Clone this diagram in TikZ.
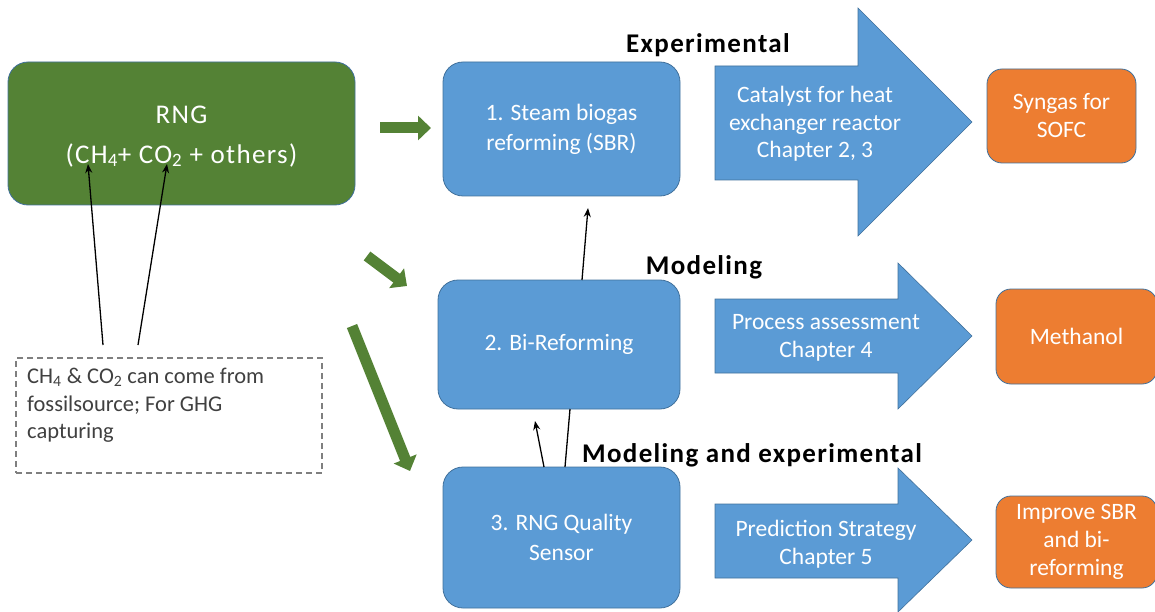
\documentclass[tikz,border=0pt]{standalone}
\usepackage{fontspec}
\setmainfont{Carlito}
\usetikzlibrary{arrows.meta}
\definecolor{rnggreen}{HTML}{548235}
\definecolor{procblue}{HTML}{5B9BD5}
\definecolor{edgeblue}{HTML}{41719C}
\definecolor{prodorange}{HTML}{ED7D31}
\definecolor{notegray}{HTML}{7F7F7F}
\definecolor{notetext}{HTML}{404040}

\begin{document}
\begin{tikzpicture}[x=1pt,y=-1pt,
  shapebox/.style={draw=edgeblue, line width=0.8pt, text=white, align=center,
    inner sep=0pt},
  rngbox/.style={shapebox, fill=rnggreen, rounded corners=20pt,
    font=\fontsize{27}{40}\selectfont\addfontfeature{LetterSpace=5}},
  procbox/.style={shapebox, fill=procblue, rounded corners=20pt,
    font=\fontsize{23.5}{30}\selectfont},
  prodbox/.style={shapebox, fill=prodorange, rounded corners=15pt,
    font=\fontsize{23.5}{28}\selectfont},
  blockarrow/.style={fill=procblue, draw=edgeblue, line width=0.6pt},
  arrowtext/.style={text=white, align=center, inner sep=0pt,
    font=\fontsize{23.5}{27.5}\selectfont},
  phase/.style={font=\fontsize{27}{32}\selectfont\bfseries\addfontfeature{LetterSpace=5},
    text=black, inner sep=0pt},
  feed/.style={rnggreen, line width=11pt, -{Triangle[length=13pt,width=24pt]}},
  link/.style={black, line width=1.3pt, -{Stealth[length=9pt,width=7pt]}},
  plainlink/.style={black, line width=1.3pt},
  notebox/.style={draw=notegray, line width=1.2pt, dash pattern=on 6pt off 4pt},
  notelabel/.style={text=notetext, align=left, inner sep=0pt,
    font=\fontsize{22.5}{27.5}\selectfont}
]
\useasboundingbox (0,0) rectangle (1155,612);

% source gas
\node[rngbox, minimum width=347pt, minimum height=143pt] (rng) at (181.5,133.5)
  {\rule{0pt}{23pt}RNG\\(CH\textsubscript{4}+ CO\textsubscript{2} + others)};

% fossil note
\node[notebox, minimum width=306pt, minimum height=115pt] (note) at (169,415.5) {};
\node[notelabel, anchor=north west] (notetxt) at (27,368)
  {CH\textsubscript{4} \& CO\textsubscript{2} can come from\\fossilsource; For GHG\\capturing};

% process steps
\node[procbox, minimum width=237pt, minimum height=134pt] (b1) at (561.5,129)
  {1. Steam biogas\\reforming (SBR)};
\node[procbox, minimum width=242pt, minimum height=129pt] (b2) at (559,344.5)
  {2. Bi-Reforming};
\node[procbox, minimum width=237pt, minimum height=141pt] (b3) at (561.5,537.5)
  {3. RNG Quality\\Sensor};

% products
\node[prodbox, minimum width=149pt, minimum height=94pt] (p1) at (1061.5,116)
  {Syngas for\\SOFC};
\node[prodbox, minimum width=161pt, minimum height=95pt] (p2) at (1076.5,336.5)
  {Methanol};
\node[prodbox, minimum width=161pt, minimum height=92pt] (p3) at (1076.5,542)
  {Improve SBR\\and bi-\\reforming};

% block arrows towards the products
\draw[blockarrow] (715,66) -- (858,66) -- (858,8) -- (972,122) -- (858,236)
  -- (858,180) -- (715,180) -- cycle;
\draw[blockarrow] (715,299) -- (898,299) -- (898,263) -- (972,336) -- (898,409)
  -- (898,373) -- (715,373) -- cycle;
\draw[blockarrow] (715,504) -- (898,504) -- (898,468) -- (972,540) -- (898,612)
  -- (898,578) -- (715,578) -- cycle;
\node[arrowtext] (a1) at (815,124) {Catalyst for heat\\exchanger reactor\\Chapter 2, 3};
\node[arrowtext] (a2) at (826,338) {Process assessment\\Chapter 4};
\node[arrowtext] (a3) at (826,544) {Prediction Strategy\\Chapter 5};

% phase labels
\node[phase, anchor=base] (ph1) at (708,53) {Experimental};
\node[phase, anchor=base] (ph2) at (704,274) {Modeling};
\node[phase, anchor=base] (ph3) at (752,462) {Modeling and experimental};

% feed arrows from the gas to the steps
\coordinate (f1s) at (380,128);
\coordinate (f1e) at (431,128);
\coordinate (f2s) at (367,256);
\coordinate (f2e) at (407,286);
\coordinate (f3s) at (352,326);
\coordinate (f3e) at (410,471);
\draw[feed] (f1s) -- (f1e);
\draw[feed] (f2s) -- (f2e);
\draw[feed] (f3s) -- (f3e);

% note to gas components
\coordinate (n1) at (103,345);
\coordinate (n2) at (138,345);
\coordinate (ch4) at (88,164);
\coordinate (co2) at (167,164);
\draw[link] (n1) -- (ch4);
\draw[link] (n2) -- (co2);

% links between the steps
\coordinate (b2up) at (582,280);
\coordinate (b1low) at (588,208);
\draw[link] (b2up) -- (b1low);
\coordinate (b3up) at (544,467);
\coordinate (b2low) at (535,421);
\draw[link] (b3up) -- (b2low);
\coordinate (b3mid) at (565,467);
\coordinate (b2bot) at (570,409);
\draw[plainlink] (b3mid) -- (b2bot);
\end{tikzpicture}
\end{document}
